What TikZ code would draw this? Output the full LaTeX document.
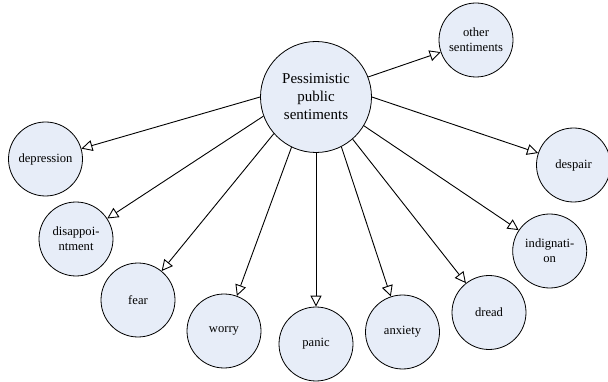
\documentclass[tikz,border=0pt]{standalone}
\usepackage{xcolor}
\usepackage{fontspec}
\setmainfont{Liberation Serif}
\usetikzlibrary{arrows.meta}

\definecolor{bubble}{RGB}{231,237,248}

\tikzset{
  senti/.style={circle, draw, line width=0.8pt, fill=bubble, minimum size=74pt,
    inner sep=0pt, align=center, font=\fontsize{12.6}{15.1}\selectfont},
  hub/.style={senti, minimum size=111pt, font=\fontsize{15}{18}\selectfont},
  tip/.style={-{Triangle[fill=white, length=11pt, width=11pt]}, line width=0.9pt}
}

\begin{document}
\begin{tikzpicture}[x=1pt, y=-1pt]
		\useasboundingbox (0,0) rectangle (608,382);

        \node[hub] (P) at (316,97) {Pessimistic\\public\\sentiments};
        \node[senti] (oth) at (476,40) {other\\sentiments};
        \node[senti] (dep) at (45.5,159) {depression};
        \node[senti] (desp) at (573.5,165) {despair};
        \node[senti] (dis) at (76,239) {disappoi-\\ntment};
        \node[senti] (ind) at (549.7,251) {indignati-\\on};
        \node[senti] (fear) at (138,300) {fear};
        \node[senti] (wor) at (224,331) {worry};
        \node[senti] (pan) at (316,344) {panic};
        \node[senti] (anx) at (402.5,332) {anxiety};
        \node[senti] (dre) at (489,312.5) {dread};

		\path[tip]
        (P.21) edge (oth)
        (P.180) edge (dep)
        (P.0) edge (desp)
        (P.200) edge (dis)
        (P.329) edge (ind)
        (P.221) edge (fear)
        (P.244) edge (wor)
        (P.270) edge (pan)
        (P.297) edge (anx)
        (P.311) edge (dre);

    \end{tikzpicture}
\end{document}
